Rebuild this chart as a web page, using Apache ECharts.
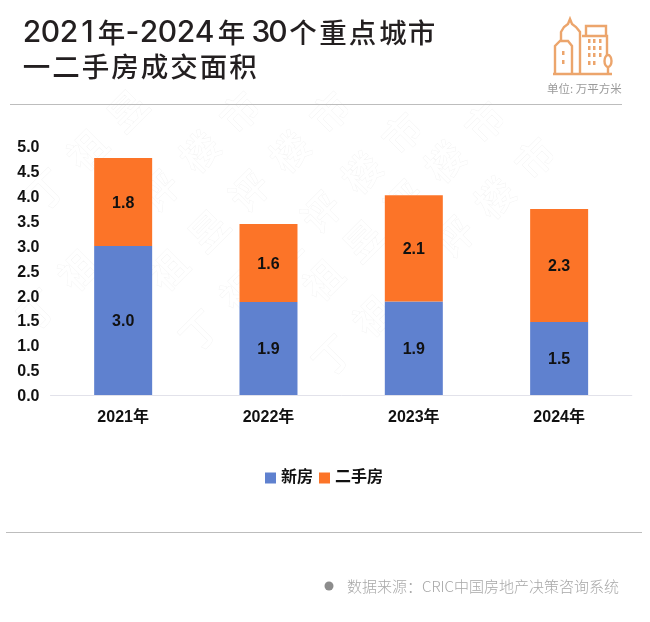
<!DOCTYPE html>
<html><head><meta charset="utf-8">
<style>html,body{margin:0;padding:0;background:#fff}#c{width:650px;height:622px}</style>
<script src="https://cdn.jsdelivr.net/npm/echarts@6/dist/echarts.min.js"></script>
</head><body><div id="c"></div>
<script>
const categories = ['2021年','2022年','2023年','2024年'];
const newHome = [3.0,1.87,1.88,1.47];
const secondHand = [1.77,1.57,2.14,2.27];
const yTicks = {min:0,max:5,interval:0.5};
const titleLine1 = '2021年-2024年30个重点城市';
const titleLine2 = '一二手房成交面积';
const wmChars = ['丁','祖','昱','评','楼','市'];

const CJK = '"Liberation Sans","Noto Sans CJK SC",sans-serif';
const graphics = [];
const wmAnchors = [[240,112],[330,112],[402,133],[485,122],[535,158],[249,-8]]; // position of 市 on each diagonal
wmAnchors.forEach(a=>{
  wmChars.forEach((ch,i)=>{
    const k = 5-i, x=a[0]-40.5*k, y=a[1]+39.5*k;
    if(y<108) return;
    graphics.push({type:'text',x,y,rotation:Math.PI/4,z:-1,silent:true,
      style:{text:ch,fill:'#ffffff',stroke:'#f4f4f4',lineWidth:1,font:'500 38px "Noto Sans CJK SC"',align:'center',verticalAlign:'middle'}});
  });
});
// title glyph centres (the reference is letter-spaced)
const line1X=[32,50.5,69,87.5,111.5,132.5,149,167.5,186,204.5,231.5,261,278,303,333,362.5,393,421.5];
const line2X=[36.5,66,95.5,125,154.5,184,213.5,243];
const glyph=(s,xs,y)=>Array.from(s).forEach((c,i)=>{
  const digit=/[0-9-]/.test(c);
  graphics.push({type:'text',x:xs[i],y,style:{text:c,fill:'#231f20',align:'center',verticalAlign:'middle',
    font:digit?'500 30px Inter':'500 27.5px "Noto Sans CJK SC"'}});
});
glyph(titleLine1,line1X,32.5);
glyph(titleLine2,line2X,67);
graphics.push(
 {type:'text',x:547,y:89,style:{text:'单位: 万平方米',fill:'#9a9a9a',font:'11.5px "Noto Sans CJK SC"',verticalAlign:'middle'}},
 {type:'line',shape:{x1:10,y1:104.5,x2:622,y2:104.5},style:{stroke:'#bdbdbd',lineWidth:1}},
 {type:'line',shape:{x1:6,y1:532.5,x2:642,y2:532.5},style:{stroke:'#bdbdbd',lineWidth:1}},
 {type:'circle',shape:{cx:329,cy:586,r:4.5},style:{fill:'#8c8c8c'}},
 {type:'text',x:347,y:586,style:{text:'数据来源：CRIC中国房地产决策咨询系统',fill:'#a8a8a8',font:'300 15px "Noto Sans CJK SC"',verticalAlign:'middle'}}
);
// building icon
const ic={stroke:'#eca56c',lineWidth:2.4,fill:'none'};
const L=(pts)=>({type:'polyline',shape:{points:pts},style:ic});
graphics.push(
 L([[553,74],[612,74]]),
 L([[555,74],[555,46],[560,41],[568,41],[572,46],[572,74]]),
 L([[561,41],[561,32],[564,27],[568,24],[570,19],[572,24],[576,27],[580,32],[580,74]]),
 L([[582,36],[607,36],[607,55]]),
 L([[608,67],[608,74]]),
 L([[586,36],[586,26],[606,26],[606,36]])
);
[[589,41],[594,41],[600,41],[589,48],[594,48],[600,48],[589,55],[594,55],[600,55],[589,63],[594,63],[563,53],[563,62]].forEach(p=>{
  graphics.push({type:'rect',shape:{x:p[0]-1,y:p[1]-2,width:2.5,height:4},style:{fill:'#eca56c'}});
});
graphics.push({type:'ellipse',shape:{cx:608,cy:61,rx:3.5,ry:6},style:ic});

const lbl={show:true,position:'inside',offset:[0,1.5],color:'#111',fontWeight:'bold',fontSize:16,fontFamily:CJK,formatter:p=>p.value.toFixed(1)};
const chart=echarts.init(document.getElementById('c'),null,{renderer:'canvas'});
chart.setOption({
  animation:false,
  backgroundColor:'#fff',
  graphic:graphics,
  grid:{left:50.5,right:18.2,top:146.5,height:248.5,containLabel:false},
  legend:{left:260,top:465,itemWidth:11,itemHeight:11,itemGap:6,icon:'rect',
    textStyle:{color:'#111',fontSize:16,fontWeight:'bold',fontFamily:CJK},
    data:['新房','二手房']},
  xAxis:{type:'category',data:categories,
    axisLine:{lineStyle:{color:'#e2e2ea',width:1}},axisTick:{show:false},
    axisLabel:{color:'#111',fontSize:16,fontWeight:'bold',fontFamily:CJK,margin:15}},
  yAxis:{type:'value',...yTicks,axisLine:{show:false},axisTick:{show:false},splitLine:{show:false},
    axisLabel:{margin:11,formatter:v=>'{a|'+v.toFixed(1)+'}',
      rich:{a:{color:'#111',fontSize:16,fontWeight:'bold',fontFamily:CJK,padding:[3,0,0,0]}}}},
  series:[
    {name:'新房',type:'bar',stack:'a',data:newHome,barWidth:58,itemStyle:{color:'#5f81cf'},label:lbl},
    {name:'二手房',type:'bar',stack:'a',data:secondHand,barWidth:58,itemStyle:{color:'#fc7428'},label:lbl}
  ]
});
</script></body></html>
